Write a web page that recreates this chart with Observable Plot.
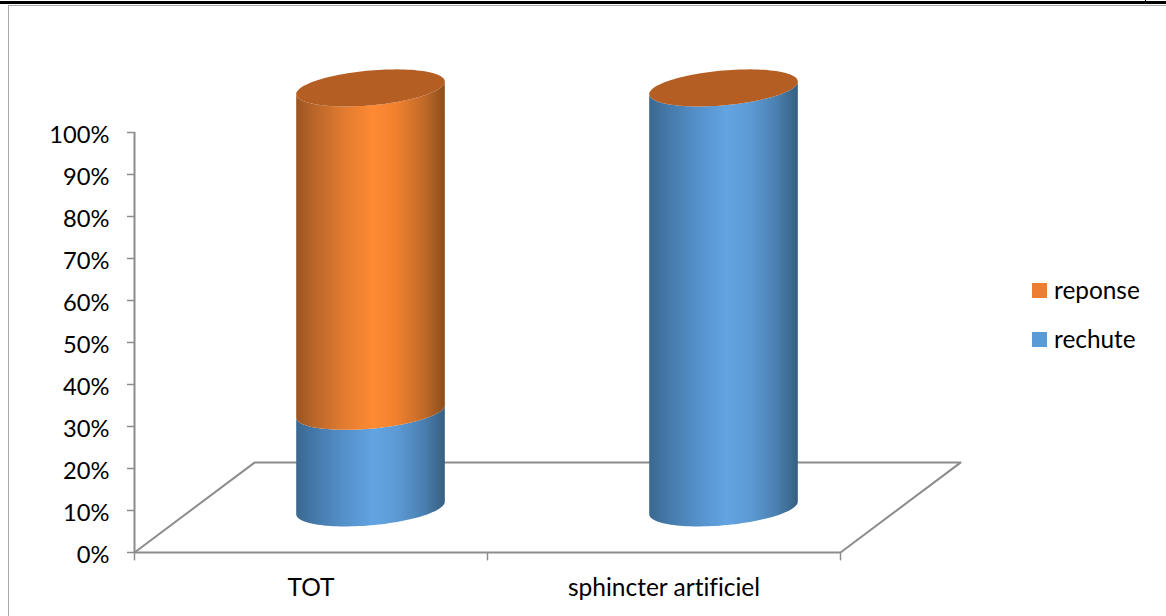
<!DOCTYPE html>
<html>
<head>
<meta charset="utf-8">
<script src="https://cdn.jsdelivr.net/npm/d3@7"></script>
<script src="https://cdn.jsdelivr.net/npm/@observablehq/plot@0.6"></script>
<style>
  html, body { margin: 0; padding: 0; background: #fff; }
  #page { position: relative; width: 1166px; height: 616px; overflow: hidden; font-family: Lato, sans-serif; color: #000; font-variant-ligatures: none; }
  #page svg { position: absolute; left: 0; top: 0; background: transparent; }
  .rule-top { position: absolute; left: 0; right: 0; top: 1px; height: 2.5px; background: #000; }
  .rule-nick { position: absolute; left: 1145px; top: 0; width: 1px; height: 3px; background: #000; }
  .frame { position: absolute; left: 8px; top: 5px; right: -4px; bottom: -4px; border: 1.5px solid #a6a6a6; }
  .legend-item { position: absolute; left: 1032px; height: 24px; display: flex; align-items: center; font-size: 24.4px; line-height: 24px; }
  .swatch { width: 15px; height: 15px; margin-right: 7px; }
</style>
</head>
<body>
<div id="page">
  <div class="rule-top"></div>
  <div class="rule-nick"></div>
  <div class="frame"></div>
</div>
<script>
// Response and relapse shares per treatment, in percent.
const categories = ["TOT", "sphincter artificiel"];
const rechute = [23, 100];
const reponse = [77, 0];
const yTicks = [0, 10, 20, 30, 40, 50, 60, 70, 80, 90, 100];

const seriesNames = ["reponse", "rechute"];
const seriesColors = { reponse: "#ed7d31", rechute: "#5b9bd5" };
const capColor = "#b55e23";
const gridColor = "#8c8c8c";

// Side shading, left to right across each cylinder.
const sideStops = {
  rechute: [[0, "#3a6890"], [0.12, "#4478a8"], [0.32, "#5490ca"], [0.52, "#62a4e1"], [0.68, "#5c9ad4"], [0.86, "#4a7fb0"], [1, "#365f80"]],
  reponse: [[0, "#9c5420"], [0.12, "#b9662a"], [0.32, "#e27b30"], [0.52, "#ff8a33"], [0.68, "#f0802f"], [0.86, "#c06a29"], [1, "#8c4d1c"]]
};

// Floor of the 3D box and cylinder shape, in axis units.
const floorDepthX = 0.34;
const floorDepthY = 21.4;
const radiusX = 0.2105;
const skewY = 1.5;
const bulgeY = 4.15;

const angles = d3.range(0, 61).map(i => (i / 60) * Math.PI);

// Front or back rim of a cylinder section at height level.
function rimY(level, t, side) {
  return level + skewY * Math.cos(t) - side * bulgeY * Math.sin(t);
}

function cylinderCenter(i) {
  return i + 0.5 + floorDepthX / 2;
}

const baseLevel = floorDepthY / 2 - 0.2;

// One side panel per stacked series and category.
const sideRows = { rechute: [], reponse: [] };
const capRows = [];
categories.forEach((category, i) => {
  const cx = cylinderCenter(i);
  const top = baseLevel + rechute[i] + reponse[i];
  const split = baseLevel + rechute[i];
  for (const t of angles) {
    const x = cx + radiusX * Math.cos(t);
    if (rechute[i] > 0) sideRows.rechute.push({ category, x, y1: rimY(baseLevel, t, 1), y2: rimY(split, t, 1) });
    if (reponse[i] > 0) sideRows.reponse.push({ category, x, y1: rimY(split, t, 1), y2: rimY(top, t, 1) });
    capRows.push({ category, x, y1: rimY(top, t, 1), y2: rimY(top, t, -1) });
  }
});

const floorOutline = [
  { x: 0, y: 0 },
  { x: floorDepthX, y: floorDepthY },
  { x: categories.length + floorDepthX, y: floorDepthY },
  { x: categories.length, y: 0 }
];

// Gradient definitions referenced by the side panels.
function gradients() {
  const defs = d3.create("svg:defs");
  for (const name of seriesNames) {
    const g = defs.append("linearGradient").attr("id", "side-" + name)
      .attr("x1", 0).attr("x2", 1).attr("y1", 0).attr("y2", 0);
    for (const [offset, color] of sideStops[name]) {
      g.append("stop").attr("offset", offset).attr("stop-color", color);
    }
  }
  return defs.node();
}

const chart = Plot.plot({
  width: 1166,
  height: 616,
  marginLeft: 134,
  marginRight: 326,
  marginTop: 132,
  marginBottom: 64,
  style: { fontFamily: "Lato, sans-serif", color: "#000", background: "transparent" },
  x: { domain: [0, categories.length] },
  y: { domain: [0, 100] },
  marks: [
    gradients,
    // Tick marks and tick labels are separate so the labels can sit lower than their ticks.
    Plot.axisY({ ticks: yTicks, label: null, tickSize: 7, stroke: gridColor, strokeWidth: 1.5, fill: "none", anchor: "left" }),
    Plot.axisY({
      ticks: yTicks, tickFormat: d => d + "%", label: null, tickSize: 0, tickPadding: 25,
      fontSize: 23.7, dy: 2.5, fill: "#000", anchor: "left"
    }),
    Plot.axisX({
      ticks: categories.map((_, i) => i + 0.5), tickFormat: d => categories[d - 0.5], label: null,
      tickSize: 0, tickPadding: 26.5, fontSize: 24.5, fontVariant: "no-common-ligatures", fill: "#000", anchor: "bottom"
    }),
    Plot.ruleX([0, 1, 2], { y1: 0, y2: -2, stroke: gridColor, strokeWidth: 1.5 }),
    Plot.ruleX([0], { y1: 0, y2: 100, stroke: gridColor, strokeWidth: 2 }),
    Plot.line(floorOutline, { x: "x", y: "y", stroke: gridColor, strokeWidth: 2 }),
    Plot.ruleY([0], { x1: 0, x2: categories.length, stroke: gridColor, strokeWidth: 2 }),
    Plot.areaY(sideRows.rechute, { x: "x", y1: "y1", y2: "y2", z: "category", fill: "url(#side-rechute)" }),
    Plot.areaY(sideRows.reponse, { x: "x", y1: "y1", y2: "y2", z: "category", fill: "url(#side-reponse)" }),
    Plot.areaY(capRows, { x: "x", y1: "y1", y2: "y2", z: "category", fill: capColor })
  ]
});

const page = document.getElementById("page");
page.appendChild(chart);

// Legend to the right of the plot.
seriesNames.forEach((name, i) => {
  const item = document.createElement("div");
  item.className = "legend-item";
  item.style.top = (278 + i * 49) + "px";
  const swatch = document.createElement("span");
  swatch.className = "swatch";
  swatch.style.background = seriesColors[name];
  item.appendChild(swatch);
  item.appendChild(document.createTextNode(name));
  page.appendChild(item);
});
</script>
</body>
</html>
